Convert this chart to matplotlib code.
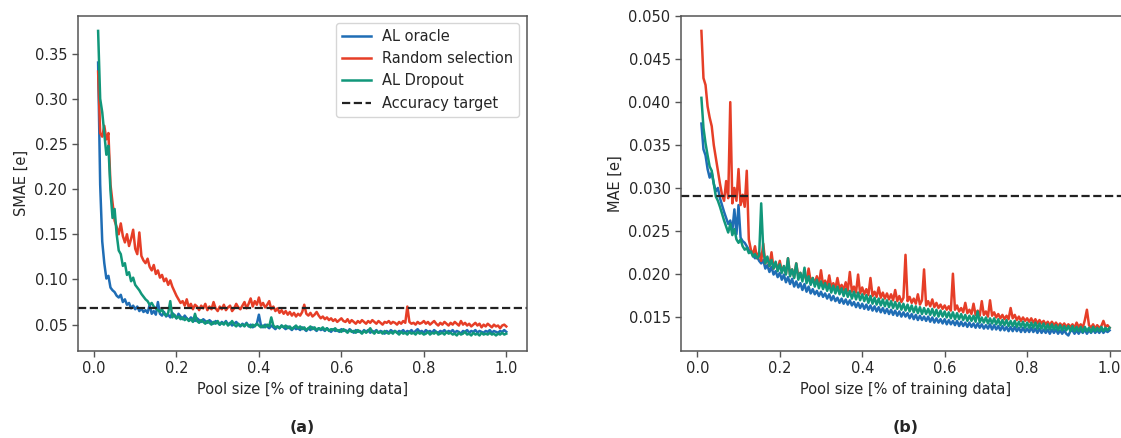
import numpy as np
import matplotlib
matplotlib.use("Agg")
import matplotlib.pyplot as plt

# pool size grid (fraction of training data), 0.010 .. 1.000 step 0.005
pool_size = np.round(np.arange(0.010, 1.0001, 0.005), 3)

# ---- panel (a): SMAE [e] ----
smae_oracle = [
    0.340, 0.205, 0.142, 0.118, 0.101, 0.104, 0.091, 0.088, 0.086, 0.082,
    0.080, 0.083, 0.075, 0.078, 0.072, 0.074, 0.068, 0.071, 0.067, 0.070,
    0.065, 0.068, 0.064, 0.066, 0.063, 0.072, 0.062, 0.065, 0.061, 0.075,
    0.062, 0.060, 0.064, 0.059, 0.061, 0.058, 0.063, 0.060, 0.057, 0.062,
    0.059, 0.056, 0.060, 0.057, 0.055, 0.058, 0.056, 0.054, 0.057, 0.055,
    0.053, 0.056, 0.054, 0.052, 0.055, 0.053, 0.051, 0.054, 0.052, 0.050,
    0.053, 0.051, 0.054, 0.050, 0.052, 0.049, 0.051, 0.053, 0.050, 0.048,
    0.051, 0.049, 0.052, 0.048, 0.050, 0.047, 0.049, 0.051, 0.061, 0.049,
    0.047, 0.050, 0.048, 0.046, 0.049, 0.047, 0.045, 0.048, 0.046, 0.049,
    0.047, 0.045, 0.048, 0.046, 0.044, 0.047, 0.045, 0.046, 0.044, 0.047,
    0.045, 0.043, 0.046, 0.044, 0.047, 0.045, 0.043, 0.046, 0.044, 0.045,
    0.043, 0.046, 0.044, 0.042, 0.045, 0.043, 0.044, 0.042, 0.045, 0.043,
    0.044, 0.042, 0.045, 0.043, 0.041, 0.044, 0.042, 0.043, 0.041, 0.044,
    0.042, 0.044, 0.041, 0.043, 0.042, 0.044, 0.041, 0.043, 0.042, 0.040,
    0.043, 0.041, 0.044, 0.042, 0.043, 0.041, 0.043, 0.042, 0.044, 0.041,
    0.043, 0.042, 0.044, 0.041, 0.043, 0.045, 0.042, 0.043, 0.041, 0.044,
    0.042, 0.043, 0.041, 0.044, 0.042, 0.041, 0.043, 0.042, 0.044, 0.041,
    0.043, 0.042, 0.044, 0.041, 0.043, 0.042, 0.040, 0.043, 0.042, 0.044,
    0.041, 0.043, 0.042, 0.044, 0.041, 0.043, 0.042, 0.041, 0.043, 0.042,
    0.044, 0.041, 0.043, 0.042, 0.041, 0.043, 0.042, 0.044, 0.042,
]
smae_random = [
    0.330, 0.262, 0.258, 0.270, 0.255, 0.262, 0.205, 0.185, 0.165, 0.158,
    0.150, 0.162, 0.148, 0.141, 0.150, 0.137, 0.145, 0.155, 0.134, 0.128,
    0.152, 0.126, 0.121, 0.118, 0.123, 0.114, 0.110, 0.116, 0.106, 0.110,
    0.102, 0.105, 0.098, 0.101, 0.094, 0.099, 0.092, 0.087, 0.082, 0.078,
    0.074, 0.076, 0.071, 0.078, 0.069, 0.073, 0.067, 0.072, 0.070, 0.066,
    0.071, 0.068, 0.073, 0.066, 0.070, 0.067, 0.075, 0.068, 0.065, 0.070,
    0.067, 0.072, 0.066, 0.069, 0.071, 0.065, 0.068, 0.073, 0.069, 0.067,
    0.071, 0.075, 0.068, 0.073, 0.079, 0.070, 0.076, 0.072, 0.080, 0.071,
    0.074, 0.069, 0.072, 0.076, 0.067, 0.070, 0.065, 0.068, 0.063, 0.066,
    0.062, 0.065, 0.061, 0.064, 0.060, 0.063, 0.059, 0.062, 0.060, 0.064,
    0.072, 0.062, 0.060, 0.063, 0.059, 0.061, 0.064, 0.060, 0.057, 0.059,
    0.056, 0.058, 0.055, 0.057, 0.054, 0.056, 0.053, 0.055, 0.057, 0.054,
    0.053, 0.056, 0.052, 0.055, 0.053, 0.051, 0.054, 0.052, 0.055, 0.053,
    0.051, 0.054, 0.052, 0.055, 0.053, 0.051, 0.054, 0.052, 0.050, 0.053,
    0.052, 0.054, 0.051, 0.053, 0.052, 0.050, 0.053, 0.051, 0.054, 0.052,
    0.070, 0.053, 0.051, 0.052, 0.050, 0.053, 0.051, 0.052, 0.054, 0.051,
    0.053, 0.050, 0.052, 0.054, 0.051, 0.049, 0.052, 0.050, 0.053, 0.051,
    0.049, 0.052, 0.050, 0.053, 0.051, 0.049, 0.054, 0.050, 0.052, 0.049,
    0.051, 0.048, 0.050, 0.052, 0.049, 0.051, 0.047, 0.050, 0.048, 0.051,
    0.049, 0.047, 0.050, 0.048, 0.049, 0.046, 0.049, 0.050, 0.048,
]
smae_dropout = [
    0.375, 0.300, 0.285, 0.262, 0.238, 0.248, 0.198, 0.168, 0.178, 0.150,
    0.132, 0.128, 0.115, 0.118, 0.105, 0.108, 0.098, 0.102, 0.094, 0.091,
    0.088, 0.084, 0.081, 0.078, 0.076, 0.072, 0.074, 0.070, 0.068, 0.066,
    0.064, 0.067, 0.062, 0.060, 0.063, 0.076, 0.058, 0.061, 0.057, 0.059,
    0.056, 0.058, 0.055, 0.057, 0.054, 0.056, 0.053, 0.062, 0.054, 0.052,
    0.055, 0.053, 0.051, 0.054, 0.052, 0.050, 0.053, 0.051, 0.054, 0.050,
    0.052, 0.050, 0.053, 0.049, 0.051, 0.054, 0.050, 0.048, 0.051, 0.049,
    0.050, 0.048, 0.051, 0.049, 0.047, 0.050, 0.048, 0.051, 0.049, 0.047,
    0.049, 0.047, 0.050, 0.048, 0.058, 0.049, 0.047, 0.048, 0.046, 0.049,
    0.047, 0.049, 0.046, 0.048, 0.045, 0.047, 0.049, 0.046, 0.048, 0.045,
    0.047, 0.044, 0.046, 0.048, 0.045, 0.047, 0.044, 0.046, 0.045, 0.047,
    0.044, 0.046, 0.043, 0.045, 0.044, 0.046, 0.043, 0.044, 0.042, 0.045,
    0.043, 0.041, 0.044, 0.042, 0.043, 0.041, 0.044, 0.042, 0.040, 0.043,
    0.041, 0.043, 0.046, 0.042, 0.040, 0.043, 0.041, 0.042, 0.040, 0.043,
    0.041, 0.040, 0.042, 0.040, 0.043, 0.041, 0.039, 0.042, 0.040, 0.041,
    0.039, 0.042, 0.040, 0.041, 0.039, 0.042, 0.040, 0.041, 0.039, 0.040,
    0.042, 0.039, 0.041, 0.040, 0.042, 0.039, 0.040, 0.041, 0.039, 0.042,
    0.040, 0.041, 0.039, 0.040, 0.038, 0.041, 0.039, 0.040, 0.042, 0.039,
    0.040, 0.038, 0.041, 0.039, 0.040, 0.038, 0.041, 0.039, 0.040, 0.039,
    0.041, 0.039, 0.040, 0.038, 0.040, 0.039, 0.041, 0.039, 0.040,
]
smae_target = 0.068

# ---- panel (b): MAE [e] ----
mae_oracle = [
    0.0375, 0.0345, 0.0338, 0.0322, 0.0312, 0.0318, 0.0305, 0.0296, 0.0300, 0.0288,
    0.0280, 0.0272, 0.0265, 0.0258, 0.0262, 0.0250, 0.0275, 0.0246, 0.0280, 0.0242,
    0.0238, 0.0236, 0.0232, 0.0228, 0.0226, 0.0222, 0.0218, 0.0220, 0.0215, 0.0212,
    0.0216, 0.0206, 0.0210, 0.0202, 0.0208, 0.0199, 0.0203, 0.0196, 0.0201, 0.0193,
    0.0199, 0.0190, 0.0196, 0.0188, 0.0194, 0.0185, 0.0191, 0.0184, 0.0189, 0.0181,
    0.0188, 0.0179, 0.0185, 0.0177, 0.0182, 0.0176, 0.0180, 0.0174, 0.0179, 0.0173,
    0.0177, 0.0171, 0.0176, 0.0169, 0.0174, 0.0168, 0.0172, 0.0166, 0.0171, 0.0165,
    0.0170, 0.0164, 0.0169, 0.0163, 0.0167, 0.0161, 0.0166, 0.0160, 0.0165, 0.0159,
    0.0164, 0.0158, 0.0163, 0.0157, 0.0162, 0.0156, 0.0161, 0.0155, 0.0160, 0.0154,
    0.0159, 0.0153, 0.0158, 0.0152, 0.0157, 0.0151, 0.0156, 0.0150, 0.0155, 0.0150,
    0.0154, 0.0148, 0.0153, 0.0147, 0.0152, 0.0146, 0.0151, 0.0146, 0.0150, 0.0145,
    0.0150, 0.0144, 0.0149, 0.0143, 0.0148, 0.0143, 0.0147, 0.0142, 0.0147, 0.0141,
    0.0146, 0.0141, 0.0145, 0.0140, 0.0145, 0.0139, 0.0144, 0.0139, 0.0143, 0.0138,
    0.0143, 0.0138, 0.0142, 0.0137, 0.0142, 0.0137, 0.0141, 0.0136, 0.0140, 0.0136,
    0.0141, 0.0135, 0.0140, 0.0135, 0.0139, 0.0134, 0.0139, 0.0134, 0.0138, 0.0133,
    0.0138, 0.0133, 0.0138, 0.0133, 0.0137, 0.0132, 0.0137, 0.0132, 0.0136, 0.0132,
    0.0137, 0.0132, 0.0136, 0.0131, 0.0136, 0.0131, 0.0135, 0.0131, 0.0135, 0.0130,
    0.0135, 0.0131, 0.0135, 0.0130, 0.0134, 0.0130, 0.0134, 0.0130, 0.0128, 0.0133,
    0.0134, 0.0130, 0.0134, 0.0130, 0.0134, 0.0131, 0.0135, 0.0130, 0.0134, 0.0131,
    0.0135, 0.0131, 0.0134, 0.0131, 0.0135, 0.0131, 0.0134, 0.0132, 0.0134,
]
mae_random = [
    0.0483, 0.0428, 0.0420, 0.0395, 0.0382, 0.0372, 0.0350, 0.0335, 0.0320, 0.0305,
    0.0292, 0.0285, 0.0308, 0.0288, 0.0400, 0.0282, 0.0300, 0.0285, 0.0322, 0.0280,
    0.0292, 0.0278, 0.0320, 0.0240, 0.0228, 0.0222, 0.0232, 0.0218, 0.0225, 0.0215,
    0.0235, 0.0212, 0.0218, 0.0209, 0.0225, 0.0206, 0.0212, 0.0205, 0.0215, 0.0203,
    0.0208, 0.0200, 0.0218, 0.0199, 0.0205, 0.0196, 0.0212, 0.0197, 0.0201, 0.0195,
    0.0199, 0.0192, 0.0206, 0.0191, 0.0195, 0.0189, 0.0197, 0.0188, 0.0204, 0.0187,
    0.0192, 0.0185, 0.0198, 0.0184, 0.0189, 0.0183, 0.0195, 0.0182, 0.0187, 0.0181,
    0.0190, 0.0180, 0.0202, 0.0179, 0.0185, 0.0178, 0.0199, 0.0177, 0.0184, 0.0176,
    0.0182, 0.0175, 0.0195, 0.0174, 0.0179, 0.0173, 0.0184, 0.0172, 0.0178, 0.0171,
    0.0177, 0.0170, 0.0176, 0.0169, 0.0181, 0.0168, 0.0174, 0.0167, 0.0172, 0.0222,
    0.0168, 0.0173, 0.0166, 0.0171, 0.0165, 0.0176, 0.0164, 0.0169, 0.0205, 0.0163,
    0.0168, 0.0162, 0.0170, 0.0161, 0.0166, 0.0160, 0.0164, 0.0159, 0.0163, 0.0158,
    0.0162, 0.0157, 0.0200, 0.0158, 0.0163, 0.0156, 0.0160, 0.0155, 0.0166, 0.0154,
    0.0158, 0.0153, 0.0165, 0.0152, 0.0157, 0.0151, 0.0168, 0.0152, 0.0156, 0.0150,
    0.0169, 0.0151, 0.0155, 0.0149, 0.0153, 0.0148, 0.0152, 0.0147, 0.0151, 0.0147,
    0.0160, 0.0148, 0.0152, 0.0146, 0.0150, 0.0145, 0.0149, 0.0145, 0.0148, 0.0144,
    0.0148, 0.0143, 0.0147, 0.0142, 0.0146, 0.0142, 0.0145, 0.0141, 0.0144, 0.0140,
    0.0144, 0.0140, 0.0143, 0.0139, 0.0142, 0.0139, 0.0142, 0.0138, 0.0141, 0.0138,
    0.0141, 0.0137, 0.0143, 0.0138, 0.0141, 0.0137, 0.0146, 0.0158, 0.0140, 0.0137,
    0.0141, 0.0136, 0.0140, 0.0137, 0.0139, 0.0145, 0.0138, 0.0140, 0.0137,
]
mae_dropout = [
    0.0405, 0.0370, 0.0352, 0.0338, 0.0325, 0.0320, 0.0305, 0.0290, 0.0285, 0.0278,
    0.0270, 0.0262, 0.0255, 0.0248, 0.0258, 0.0245, 0.0252, 0.0240, 0.0236, 0.0240,
    0.0232, 0.0228, 0.0230, 0.0224, 0.0226, 0.0220, 0.0223, 0.0218, 0.0221, 0.0282,
    0.0228, 0.0212, 0.0220, 0.0209, 0.0216, 0.0206, 0.0214, 0.0203, 0.0211, 0.0201,
    0.0209, 0.0199, 0.0218, 0.0197, 0.0205, 0.0195, 0.0212, 0.0193, 0.0201, 0.0191,
    0.0207, 0.0189, 0.0197, 0.0187, 0.0195, 0.0185, 0.0193, 0.0183, 0.0191, 0.0182,
    0.0189, 0.0180, 0.0188, 0.0178, 0.0186, 0.0177, 0.0185, 0.0176, 0.0183, 0.0174,
    0.0182, 0.0173, 0.0180, 0.0171, 0.0179, 0.0170, 0.0178, 0.0169, 0.0176, 0.0168,
    0.0175, 0.0166, 0.0174, 0.0165, 0.0172, 0.0164, 0.0171, 0.0163, 0.0170, 0.0162,
    0.0169, 0.0161, 0.0168, 0.0160, 0.0167, 0.0159, 0.0166, 0.0158, 0.0165, 0.0157,
    0.0164, 0.0156, 0.0163, 0.0155, 0.0162, 0.0154, 0.0161, 0.0153, 0.0160, 0.0153,
    0.0159, 0.0152, 0.0159, 0.0151, 0.0158, 0.0150, 0.0157, 0.0150, 0.0156, 0.0149,
    0.0155, 0.0148, 0.0155, 0.0147, 0.0154, 0.0147, 0.0153, 0.0146, 0.0152, 0.0145,
    0.0151, 0.0145, 0.0151, 0.0144, 0.0156, 0.0143, 0.0149, 0.0143, 0.0149, 0.0142,
    0.0148, 0.0142, 0.0148, 0.0141, 0.0147, 0.0140, 0.0146, 0.0140, 0.0146, 0.0139,
    0.0145, 0.0139, 0.0145, 0.0138, 0.0144, 0.0138, 0.0144, 0.0137, 0.0143, 0.0137,
    0.0143, 0.0137, 0.0143, 0.0136, 0.0142, 0.0136, 0.0142, 0.0135, 0.0141, 0.0135,
    0.0141, 0.0135, 0.0140, 0.0134, 0.0140, 0.0134, 0.0139, 0.0134, 0.0139, 0.0133,
    0.0139, 0.0133, 0.0138, 0.0133, 0.0138, 0.0132, 0.0138, 0.0133, 0.0137, 0.0132,
    0.0138, 0.0133, 0.0137, 0.0133, 0.0138, 0.0133, 0.0137, 0.0134, 0.0137,
]
mae_target = 0.029

series_labels = ["AL oracle", "Random selection", "AL Dropout"]
target_label = "Accuracy target"
colors = ["#1f6db5", "#e63e27", "#11977a"]

plt.rcParams["font.family"] = ["DejaVu Sans"]
plt.rcParams["font.size"] = 10.5
text_color = "#262626"

fig = plt.figure(figsize=(11.21, 4.38), dpi=100)
W, H = 1121, 438
ax_w, ax_h = 449 / W, 335 / H
ax_b = (H - 350.7) / H
axA = fig.add_axes([77.7 / W, ax_b, ax_w, ax_h])
axB = fig.add_axes([681.0 / W, ax_b, ax_w, ax_h])

panels = [
    (axA, [smae_oracle, smae_random, smae_dropout], smae_target, "SMAE [e]"),
    (axB, [mae_oracle, mae_random, mae_dropout], mae_target, "MAE [e]"),
]

for ax, ys, target, ylab in panels:
    for y, lab, c in zip(ys, series_labels, colors):
        ax.plot(pool_size, y, color=c, lw=1.8, label=lab)
    ax.axhline(target, color="#222222", lw=1.6, ls="--", label=target_label)
    ax.set_xlabel("Pool size [% of training data]", color=text_color)
    ax.set_ylabel(ylab, color=text_color)
    ax.set_xticks([0.0, 0.2, 0.4, 0.6, 0.8, 1.0])
    for s in ax.spines.values():
        s.set_color("#555555")
        s.set_linewidth(1.1)
    ax.tick_params(colors="#555555", labelcolor=text_color, width=1.0, length=4)

axB.set_yticks([0.015, 0.020, 0.025, 0.030, 0.035, 0.040, 0.045, 0.050])
axB.yaxis.set_major_formatter(matplotlib.ticker.FormatStrFormatter("%.3f"))

leg = axA.legend(loc="upper right", frameon=True, fancybox=True)
leg.get_frame().set_edgecolor("#cccccc")
for t in leg.get_texts():
    t.set_color(text_color)

fig.text((77.7 + 449 / 2) / W, 1 - 428 / H, "(a)", ha="center", va="center",
         fontweight="bold", fontsize=11.5, color=text_color)
fig.text((681.0 + 449 / 2) / W, 1 - 428 / H, "(b)", ha="center", va="center",
         fontweight="bold", fontsize=11.5, color=text_color)

fig.savefig("out.png", dpi=100)
